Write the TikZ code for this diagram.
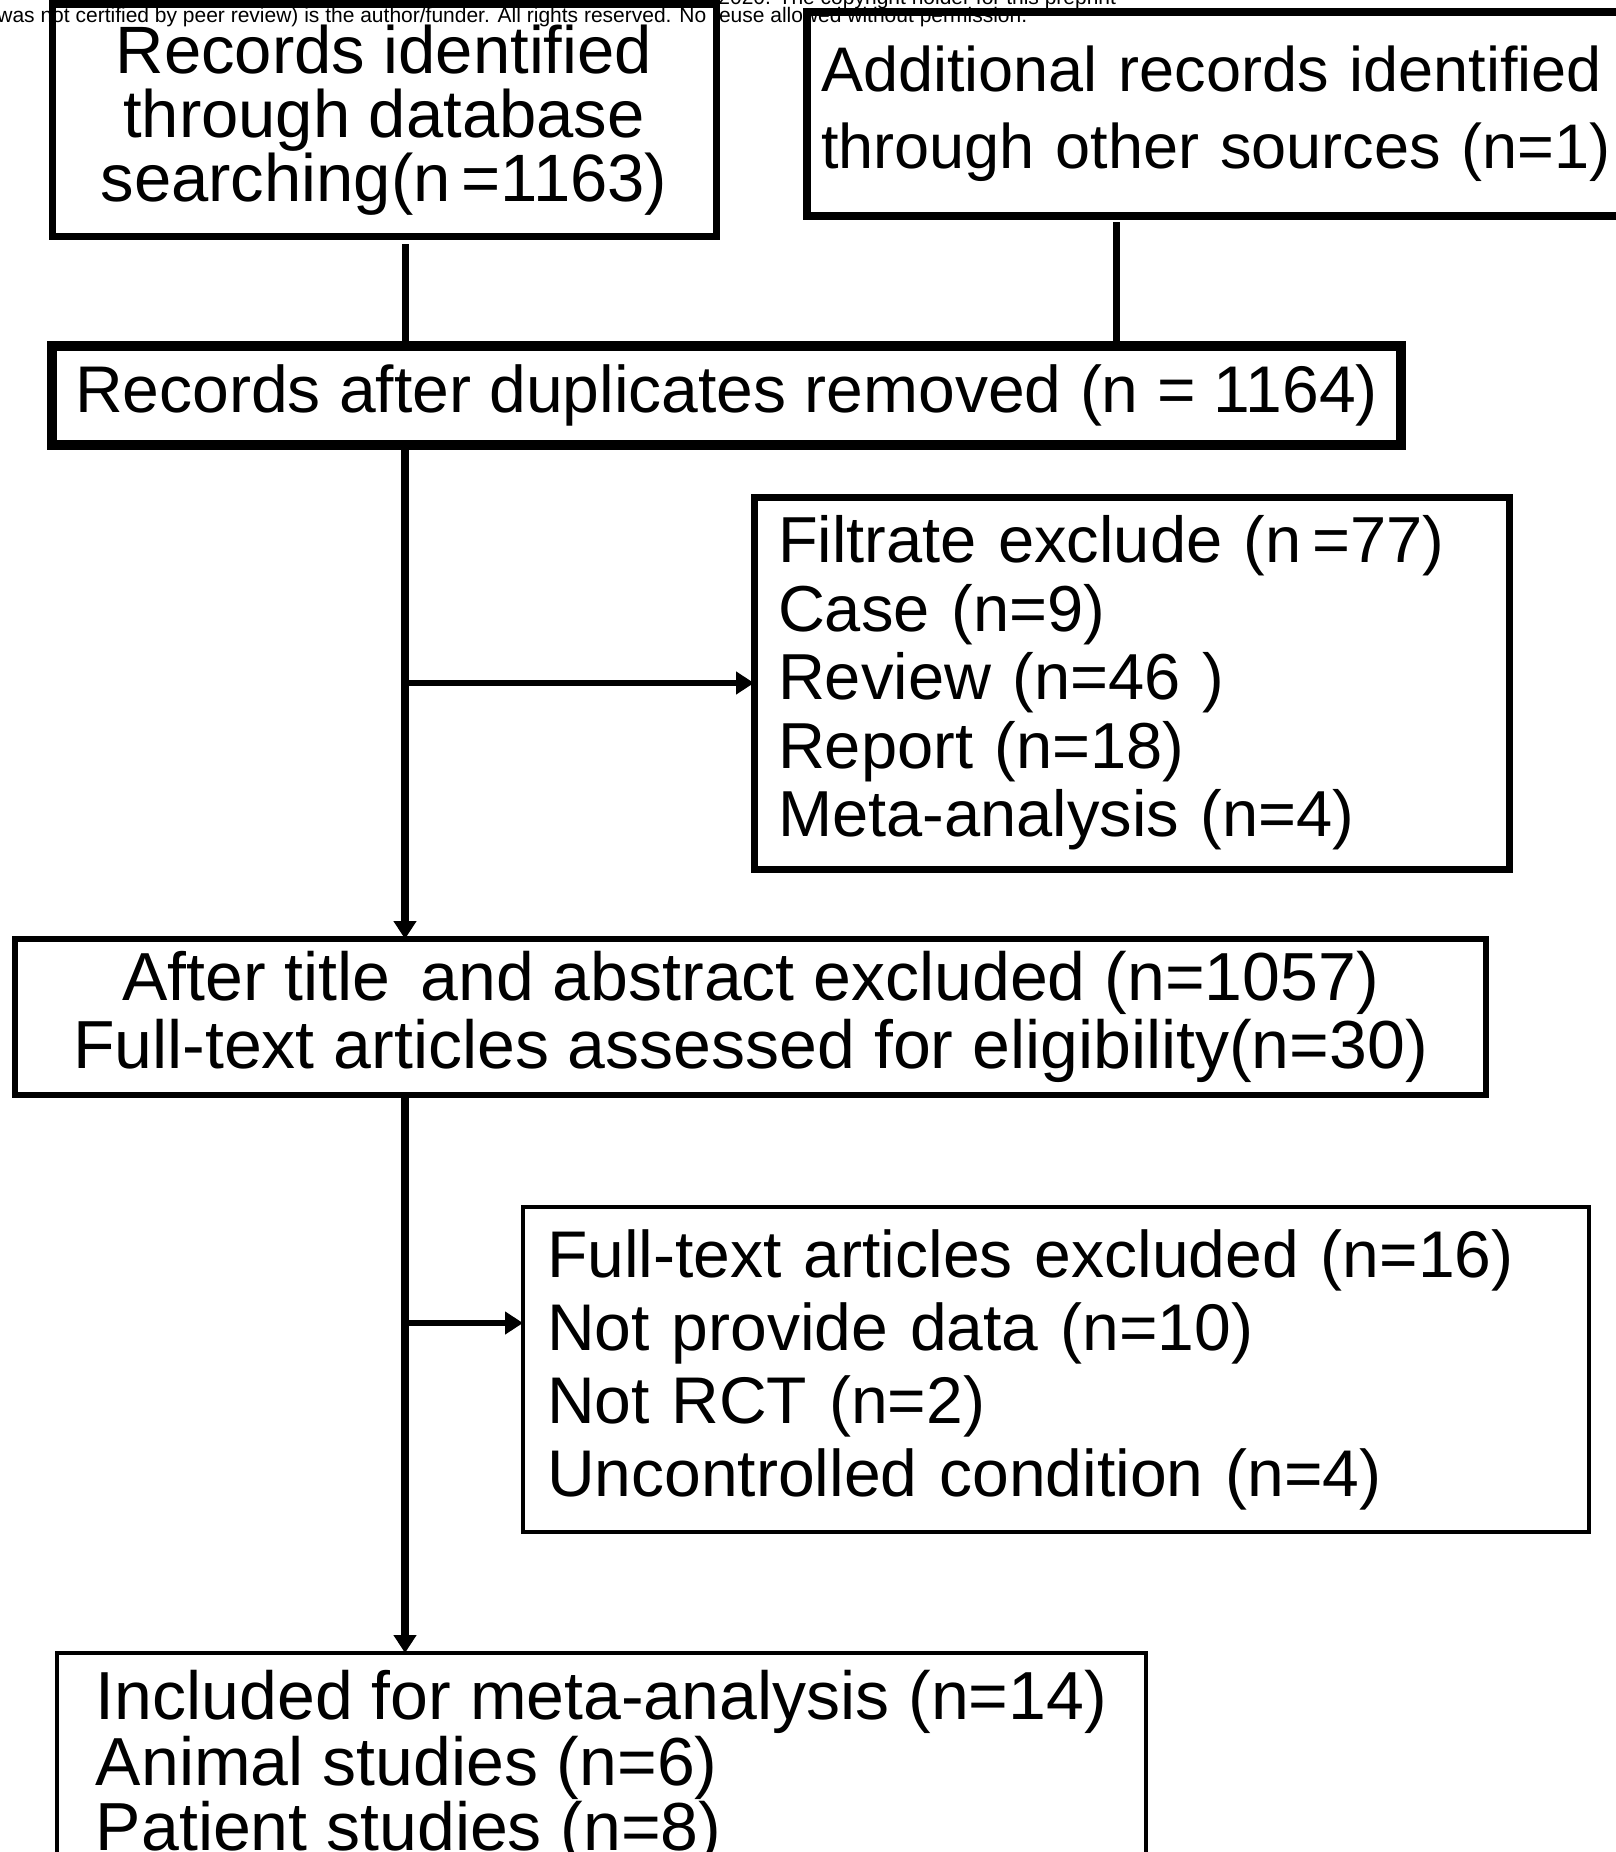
\documentclass[tikz,border=0pt]{standalone}
\usepackage{fontspec}
\setmainfont{Liberation Sans}
\usetikzlibrary{arrows.meta}

\begin{document}
\begin{tikzpicture}[x=0.5pt, y=-0.5pt, line join=miter, >={Triangle[length=9pt,width=11pt]},
		box/.style={draw, inner sep=0pt, outer sep=0pt},
		lbox/.style={box, anchor=north west, align=left},
		feed/.style={line width=3.5pt},
		trunk/.style={line width=4pt},
		branch/.style={line width=3pt}]
	\useasboundingbox (0,0) rectangle (1616,1852);
	% preprint notice along the top edge
	\node[anchor=base west, inner sep=0pt, font=\fontsize{10.5}{12}\selectfont] (note1) at (718,4) {2020. The copyright holder for this preprint};
	\node[anchor=base west, inner sep=0pt, font=\fontsize{10.5}{12}\selectfont] (note2) at (-3,22) {was not certified by peer review) is the author/funder. All rights reserved. No reuse allowed without permission.};
	% identification
	\node[box, line width=3.5pt, minimum width=332pt, minimum height=116pt, align=center, font=\fontsize{33.5}{32}\selectfont] (db) at (384,120) {Records identified\\through database\\searching(n\,=1163)};
	\node[lbox, line width=4pt, minimum height=102pt, inner xsep=7pt, text width=430pt, font=\fontsize{31.5}{38.5}\selectfont] (other) at (807,12) {Additional records identified\\through other sources (n=1)};
	\node[box, line width=5pt, minimum width=674.5pt, minimum height=49.5pt, font=\fontsize{33}{36}\selectfont] (dup) at (726.5,395.5) {Records after duplicates removed (n = 1164)};
	% screening
	\node[lbox, line width=3.5pt, minimum height=186pt, inner xsep=12pt, text width=353.5pt, font=\fontsize{32.5}{34.25}\selectfont] (filt) at (754,497) {Filtrate exclude (n\,=77)\\Case (n=9)\\Review (n=46 )\\Report (n=18)\\Meta-analysis (n=4)};
	\node[box, line width=3pt, minimum width=735.5pt, minimum height=78pt, align=center, font=\fontsize{34}{34}\selectfont] (elig) at (750.5,1017) {After title\, and abstract excluded (n=1057)\\Full-text articles assessed for eligibility(n=30)};
	% eligibility and inclusion
	\node[lbox, line width=2pt, minimum height=162.5pt, inner xsep=12pt, text width=509pt, font=\fontsize{33}{36.5}\selectfont] (excl) at (523,1207) {Full-text articles excluded (n=16)\\Not provide data (n=10)\\Not RCT (n=2)\\Uncontrolled condition (n=4)};
	\node[lbox, line width=2pt, minimum width=544.5pt, minimum height=114.5pt, font=\fontsize{34}{31}\selectfont] (incl) at (57,1653) {Included for meta-analysis (n=14)\\Animal studies (n=6)\\Patient studies (n=8)};
	% connectors
	\coordinate (main) at (405,0);
	\coordinate (side) at (1116,0);
	\coordinate (fork) at (405,1323);
	\draw[feed] ([yshift=-4pt]db.south -| main) -- (dup.north -| main);
	\draw[feed] ([yshift=-3pt]other.south -| side) -- (dup.north -| side);
	\draw[trunk, ->] (dup.south -| main) -- (elig.north -| main);
	\draw[branch, ->] (filt.west -| main) -- (filt.west);
	\draw[trunk, ->] (elig.south -| main) -- (incl.north -| main);
	\draw[branch, ->] (fork) -- (fork -| excl.west);
\end{tikzpicture}
\end{document}
